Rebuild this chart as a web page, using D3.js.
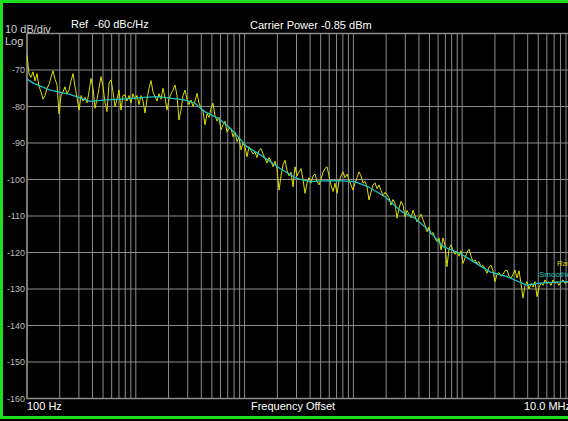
<!DOCTYPE html>
<html lang="en">
  <head>
    <meta charset="UTF-8" />
    <title>Phase Noise</title>
    <script src="https://cdnjs.cloudflare.com/ajax/libs/d3/7.8.5/d3.min.js"></script>
    <style>
      body {
        margin: 0;
        background: #000;
        overflow: hidden;
      }
      svg text {
        font-family: 'Liberation Sans', Arial, sans-serif;
      }
    </style>
  </head>
  <body>
    <svg width="568" height="421"></svg>
    <script>
      // Raw trace, dBc/Hz, one bin per sweep point (log spaced 100 Hz .. 10 MHz)
      const rawDb = [
        -66, -71, -72, -70.5, -73, -71, -74.5, -76, -78, -77, -75, -74, -72, -70.2, -72.5, -74, -82, -77, -76, -74.6,
        -76.5, -75.5, -73, -71, -74.5, -77.5, -81, -77, -78.5, -77.5, -79, -76, -72.3, -75, -80.5, -78, -75, -71.8, -74.5, -79,
        -81.4, -73.6, -72.7, -76, -80, -78, -75.5, -81, -77, -76.8, -78.5, -77,
        -79, -76.5, -78, -77, -79.5, -77, -78.5, -81.8, -78, -75, -72.9, -76, -77.3, -78.5, -76.5, -78, -75, -77.5, -81, -78,
        -76.5, -75.5, -74.1, -77, -83.7, -81, -77, -75.5, -78, -79.5, -78.2, -80, -78.5, -76.4, -79, -80.5, -81.4, -85, -82, -83,
        -80.5, -79.1, -82.5, -84, -83, -86.4, -85, -84, -87, -86, -86, -88.3, -87,
        -89.6, -88.5, -91.9, -90, -91, -93.8, -91, -92, -93, -92.5, -94, -92, -91.5, -93, -94.2, -95.5, -94, -95, -96.5, -95,
        -97, -102.9, -99, -96, -94.7, -97.5, -99, -98, -102, -96.5, -99, -97.9, -97, -100, -103.8, -101, -99.5, -101, -99, -98.5,
        -100.5, -101.5, -100, -98, -97, -96.5, -99, -101.5, -103.3, -101, -103.8, -100.5, -99,
        -97.9, -99.5, -98.5, -100, -101.5, -102.9, -101, -99.5, -97.9, -99, -101, -100.5, -102, -105.6, -103.5, -101.5, -100.9,
        -102.5, -101.5, -103, -104.5, -103.5, -104.2, -105, -107, -105.5, -106.5, -110.6, -108, -106, -107, -110.2, -108.5,
        -109.5, -110.5, -108.4, -110, -111.6, -110.5, -109.5, -111, -112.5, -114.3, -113, -115, -114.5, -116.1, -117, -116,
        -119.3, -116,
        -118, -123.9, -119, -117.9, -119.5, -120.5, -119.8, -121, -119.5, -123, -121.5, -120, -119.1, -121, -122.5, -122,
        -123, -122.5, -124, -123.5, -124.5, -125.7, -124, -123.5, -125, -128, -126, -125.5, -126.5, -126, -125, -124.8,
        -126.5, -127, -126, -124.8, -127, -125, -128.5, -132.5, -129, -128, -130, -128.5, -129.5, -128, -132.1, -129.5,
        -128.4, -129, -127.5, -128.5, -128, -129, -127.5, -128.5, -128, -129, -128, -127.5, -128.5, -128, -128.5, -128
      ];

      // Smoothed trace
      const smoothHz = [
        100, 114, 163, 248, 380, 540, 820, 1200, 1600, 2150, 2800, 3500, 4300, 5700, 7100, 7900, 10500, 14900, 21000,
        30000, 40000, 53000, 70000, 103000, 137000, 195000, 278000, 368000, 488000, 670000, 954000, 1265000, 1800000,
        2570000, 3900000, 5200000, 9100000, 10000000
      ];
      const smoothDb = [
        -72.5, -73.6, -75.5, -76.7, -78.6, -78.2, -77.9, -77.5, -77.3, -77.8, -78.2, -79.1, -81.4, -83.2, -85.5, -86.9,
        -91.0, -93.8, -96.9, -99.7, -100.6, -100.4, -100.3, -100.6, -102.0, -104.7, -108.8, -110.6, -113.8, -118.4,
        -120.2, -122.5, -125.3, -126.6, -128.9, -128.4, -128.0, -128.0
      ];

      const yTicks = [-70, -80, -90, -100, -110, -120, -130, -140, -150, -160];
      const yGrid = [-60, -70, -80, -90, -100, -110, -120, -130, -140, -150, -160];

      const svg = d3.select('svg');
      const pLeft = 27,
        pRight = 571,
        pTop = 33.5,
        pBottom = 398.5;

      const x = d3.scaleLog().domain([100, 1e7]).range([pLeft, pRight]);
      const y = d3.scaleLinear().domain([-160, -60]).range([pBottom, pTop]);

      // sweep bins, evenly spaced in log frequency
      const rawHz = rawDb.map((d, i) => 100 * Math.pow(10, (5 * i) / (rawDb.length - 1)));

      svg.append('rect').attr('width', 568).attr('height', 421).attr('fill', '#000');

      // Grid
      svg
        .append('g')
        .selectAll('line')
        .data(x.ticks())
        .enter()
        .append('line')
        .attr('x1', d => x(d))
        .attr('x2', d => x(d))
        .attr('y1', pTop)
        .attr('y2', pBottom)
        .attr('stroke', '#8c8c8c')
        .attr('stroke-width', 1);

      svg
        .append('g')
        .selectAll('line')
        .data(yGrid)
        .enter()
        .append('line')
        .attr('x1', pLeft)
        .attr('x2', pRight)
        .attr('y1', d => y(d))
        .attr('y2', d => y(d))
        .attr('stroke', '#8c8c8c')
        .attr('stroke-width', 1);

      svg
        .append('rect')
        .attr('x', pLeft)
        .attr('y', pTop)
        .attr('width', pRight - pLeft)
        .attr('height', pBottom - pTop)
        .attr('fill', 'none')
        .attr('stroke', '#8a8a8a')
        .attr('stroke-width', 1.5);

      // Y labels
      const yAxis = svg
        .append('g')
        .attr('transform', `translate(${pLeft},0)`)
        .call(d3.axisLeft(y).tickValues(yTicks).tickSize(0).tickPadding(2).tickFormat(d => d));
      yAxis.select('.domain').remove();
      yAxis.selectAll('text').attr('fill', '#bdbdbd').style('font-size', '9px');

      // Traces
      const line = d3
        .line()
        .x(d => x(d[0]))
        .y(d => y(d[1]));

      svg
        .append('path')
        .datum(rawHz.map((f, i) => [f, rawDb[i]]))
        .attr('d', line)
        .attr('fill', 'none')
        .attr('stroke', '#dede00')
        .attr('stroke-width', 1);

      svg
        .append('path')
        .datum(smoothHz.map((f, i) => [f, smoothDb[i]]))
        .attr('d', line)
        .attr('fill', 'none')
        .attr('stroke', '#1dc4c4')
        .attr('stroke-width', 1.3);

      // Labels
      const label = (t, px, py, opts = {}) =>
        svg
          .append('text')
          .attr('x', px)
          .attr('y', py)
          .attr('fill', opts.fill || '#fff')
          .attr('text-anchor', opts.anchor || 'start')
          .style('font-size', (opts.size || 11) + 'px')
          .text(t);

      label('10 dB/div', 5, 33, { fill: '#cfcfcf' });
      label('Log', 5, 45, { fill: '#cfcfcf' });
      label('Ref  -60 dBc/Hz', 71, 28).style('white-space', 'pre');
      label('Carrier Power -0.85 dBm', 250, 29);
      label('100 Hz', 27, 410);
      label('Frequency Offset', 293, 410, { anchor: 'middle' });
      label('10.0 MHz', pRight, 410, { anchor: 'end' });
      label('Raw', 557, 266, { fill: '#d4d400', size: 8 });
      label('Smoothed', 539, 277, { fill: '#1dc4c4', size: 8 });

      // Green window border
      svg
        .append('rect')
        .attr('x', 1.5)
        .attr('y', 1.5)
        .attr('width', 620)
        .attr('height', 416)
        .attr('fill', 'none')
        .attr('stroke', '#1ee01e')
        .attr('stroke-width', 3);
    </script>
  </body>
</html>
